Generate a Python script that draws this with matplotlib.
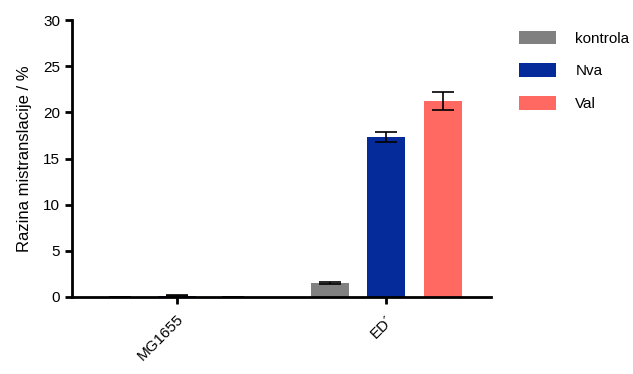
import matplotlib
matplotlib.use("Agg")
import matplotlib.pyplot as plt
import numpy as np

plt.rcParams['font.family'] = ['Liberation Sans', 'DejaVu Sans']

strains = ["MG1655", "ED´"]
groups = ["kontrola", "Nva", "Val"]
colors = ["#808080", "#052a9a", "#ff6961"]
values = {
    "kontrola": [0.05, 1.5],
    "Nva": [0.15, 17.3],
    "Val": [0.05, 21.2],
}
errors = {
    "kontrola": [0.0, 0.1],
    "Nva": [0.05, 0.55],
    "Val": [0.0, 1.0],
}

fig = plt.figure(figsize=(6.33, 3.74), dpi=100)
ax = fig.add_axes([0.1137, 0.2059, 0.6620, 0.7406])

x = np.arange(len(strains))
width = 0.18
offsets = [-0.27, 0.0, 0.27]
for g, c, off in zip(groups, colors, offsets):
    ax.bar(x + off, values[g], width, color=c, label=g,
           yerr=errors[g], capsize=8, error_kw=dict(ecolor="black", elinewidth=1.2, capthick=1.2))

ax.set_xlim(-0.5, 1.5)
ax.set_ylim(0, 30)
ax.set_yticks([0, 5, 10, 15, 20, 25, 30])
ax.set_xticks(x)
ax.set_xticklabels(strains, rotation=45, ha="right", rotation_mode="anchor", fontsize=11)
ax.tick_params(axis="y", labelsize=11, width=2, length=5)
ax.tick_params(axis="x", width=2, length=5, pad=6)
ax.set_ylabel("Razina mistranslacije / %", fontsize=12, labelpad=8)
for s in ["top", "right"]:
    ax.spines[s].set_visible(False)
for s in ["left", "bottom"]:
    ax.spines[s].set_linewidth(2)

fig.legend(loc="upper left", bbox_to_anchor=(0.798, 0.955), frameon=False,
           fontsize=11, handlelength=2.4, handleheight=1.0, labelspacing=1.15, handletextpad=1.3)

fig.savefig("out.png", dpi=100)
